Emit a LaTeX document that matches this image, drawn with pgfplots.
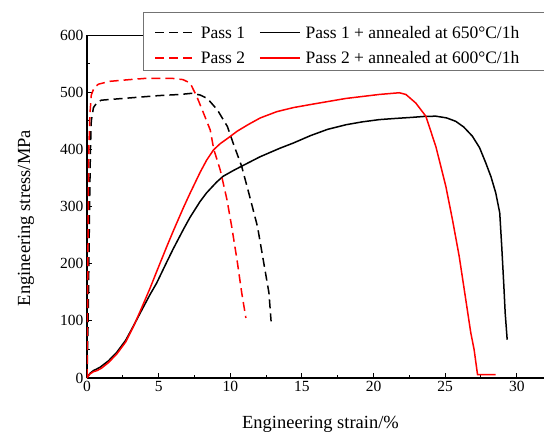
\documentclass[border=0pt]{standalone}
\usepackage{pgfplots}
\pgfplotsset{compat=1.18}
\usepackage{fontspec}
\setmainfont{Liberation Serif}

\pgfplotstableread{
x y
0 0
0.08 100
0.13 200
0.18 300
0.24 400
0.3 450
0.45 473
0.7 482
1.0 486
2.0 488
3.0 490
5.0 494
6.5 496
7.3 498
7.9 495
8.4 489
9.1 469
9.8 440
10.2 411
10.8 370
11.3 323
11.9 265
12.3 207
12.7 149
12.85 99
}\passone

\pgfplotstableread{
x y
0 0
0.03 100
0.06 200
0.09 300
0.13 400
0.2 460
0.3 495
0.5 508
0.8 514
1.6 519
3 522
4 524
6 524
6.7 522
7.2 516
7.67 492
8.14 463
8.6 434
8.85 400
9.3 364
9.77 312
10.1 265
10.47 207
10.8 149
11.09 105
}\passtwo

\pgfplotstableread{
x y
0 0
0.2 8
0.45 13
0.7 16
0.92 19
1.5 30
2.08 45
2.7 66
3.24 91
3.7 113
4.4 146
4.86 166
5.57 203
6.02 226
6.73 260
7.19 281
7.9 309
8.35 324
9.06 343
9.51 353
10.22 363
10.68 369
12.08 387
13.47 402
14.4 411
15.6 424
16.8 435
18.07 443
19.2 448
20.4 452
21.5 454
22.72 456
23.5 457.5
24.35 458
25.1 455
25.74 449
26.3 439
26.9 423
27.4 403
27.84 376
28.2 352
28.53 324
28.81 289
28.95 230
29.1 160
29.19 114
29.33 67
}\passoneann

\pgfplotstableread{
x y
0 0
0.2 7
0.45 11
0.7 13
1.0 17
1.5 27
2.08 42
2.7 63
3.24 90
3.7 116
4.4 157
4.86 186
5.57 230
6.02 257
6.73 298
7.19 323
7.9 360
8.35 381
8.83 399
9.3 410
9.75 418
10.5 432
11.3 444
12.1 455
13.26 466
14.4 473
15.74 479
18.07 489
20.4 496
21.8 499
22.26 496
22.95 481
23.65 458
24.35 405
25.05 335
25.51 277
25.98 213
26.44 137
26.79 79
27.02 50
27.26 6
28.53 6
}\passtwoann

\begin{document}
\begin{tikzpicture}
\useasboundingbox (-87pt,-54pt) rectangle (457pt,378pt);
\begin{axis}[
  at={(0,0)}, anchor=south west,
  scale only axis, width=457pt, height=343pt,
  xmin=0, xmax=31.9, ymin=0, ymax=600,
  axis lines*=left,
  axis line style={-, line width=1.1pt},
  tick align=inside,
  major tick length=5pt, minor tick length=3pt,
  every tick/.style={black, line width=1pt},
  xtick={0,5,...,30}, ytick={0,100,...,600},
  minor x tick num=1, minor y tick num=1,
  /pgf/number format/assume math mode=true,
  ticklabel style={font=\fontsize{15.5}{18}\selectfont},
  xlabel={Engineering strain/\%},
  ylabel={Engineering stress/MPa},
  xlabel style={font=\fontsize{18.5}{22}\selectfont, at={(axis description cs:0.511,-0.1458)}, anchor=base},
  ylabel style={font=\fontsize{18.5}{22}\selectfont, at={(axis description cs:-0.1335,0.466)}, anchor=center},
  legend columns=2,
  legend image code/.code={\draw[#1] (0pt,5.6pt) -- (40pt,5.6pt);},
  legend style={at={(axis description cs:0.1225,1.067)}, anchor=north west,
    draw=black!55, line width=0.8pt, fill=white,
    font=\fontsize{17.5}{20}\selectfont,
    inner xsep=11pt, inner ysep=3.4pt,
    cells={anchor=base west},
    nodes={inner xsep=5pt, inner ysep=3.2pt, text height=19pt, text depth=0pt},
    /tikz/every even column/.append style={column sep=9pt}},
]
\draw[line width=1.1pt] (rel axis cs:0,1) -- (rel axis cs:1,1);
\addplot[black, line width=1.5pt, dash pattern=on 9pt off 5pt] table[x=x,y=y] {\passone};
\addlegendentry{Pass 1}
\addplot[black, line width=1.5pt] table[x=x,y=y] {\passoneann};
\addlegendentry{\makebox[250pt][l]{Pass 1 + annealed at 650°C/1h}}
\addplot[red, line width=1.5pt, dash pattern=on 9pt off 5pt] table[x=x,y=y] {\passtwo};
\addlegendentry{Pass 2}
\addplot[red, line width=1.5pt] table[x=x,y=y] {\passtwoann};
\addlegendentry{\makebox[250pt][l]{Pass 2 + annealed at 600°C/1h}}
\end{axis}
\end{tikzpicture}
\end{document}
